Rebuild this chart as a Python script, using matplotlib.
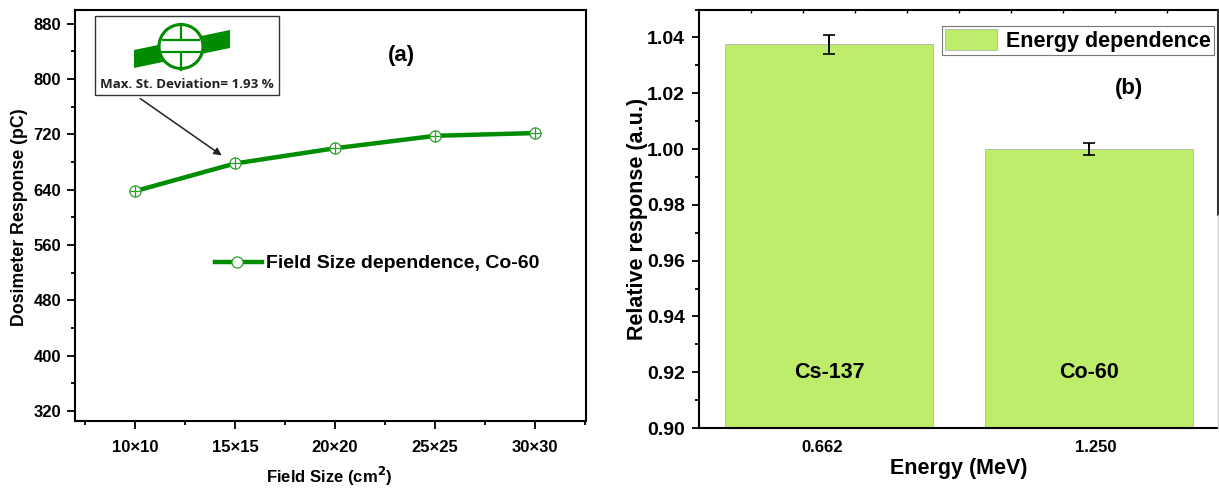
import matplotlib
matplotlib.use("Agg")
import matplotlib.pyplot as plt
from matplotlib.patches import Polygon, Circle, Rectangle
from matplotlib.ticker import MultipleLocator

# panel (a)
field_sizes = ["10×10", "15×15", "20×20", "25×25", "30×30"]
response = [638, 678, 700, 718, 722]

# panel (b)
energies = ["0.662", "1.250"]
sources = ["Cs-137", "Co-60"]
relative = [1.0375, 1.0]
rel_err = [0.0033, 0.0022]

W, H = 1219, 488
GREEN = "#008c00"
BAR = "#bded6b"

plt.rcParams["font.family"] = ["Liberation Sans", "DejaVu Sans"]
plt.rcParams["font.weight"] = "bold"


def px_axes(l, t, r, b):
    return fig.add_axes([l / W, 1 - b / H, (r - l) / W, (b - t) / H])


fig = plt.figure(figsize=(W / 100, H / 100), dpi=100)

# ---- left panel
ax = px_axes(75, 10, 586, 421)
xs = list(range(len(response)))
ax.plot(xs, response, color=GREEN, lw=3.2, zorder=2)
ax.plot(xs, response, ls="none", marker="o", ms=8, mfc="white", mec="#2ca02c", mew=0.9, zorder=3)
ax.plot(xs, response, ls="none", marker="+", ms=8, mec="#2ca02c", mew=0.9, zorder=4)
ax.set_xlim(-0.6, 4.51)
ax.set_ylim(305.5, 900)
ax.set_xticks(xs)
ax.set_xticklabels(field_sizes, fontsize=12)
ax.set_xticks([-0.5, 0.5, 1.5, 2.5, 3.5, 4.5], minor=True)
ax.yaxis.set_major_locator(MultipleLocator(80))
ax.yaxis.set_minor_locator(MultipleLocator(40))
ax.tick_params(axis="y", labelsize=12, width=1.3, length=6, pad=4)
ax.tick_params(axis="x", width=1.3, length=6, pad=8)
ax.tick_params(which="minor", width=1.3, length=3)
ax.set_xlabel("Field Size (cm$\\mathbf{^2}$)", fontsize=12, fontweight="bold")
ax.xaxis.set_label_coords(0.497, -0.134)
ax.xaxis.label.set_va("center")
ax.set_ylabel("Dosimeter Response (pC)", fontsize=12.8, fontweight="bold")
ax.yaxis.set_label_coords(-0.109, 0.496)
ax.yaxis.label.set_va("center")
for s in ax.spines.values():
    s.set_linewidth(1.5)
ax.text(0.638, 0.889, "(a)", transform=ax.transAxes, fontsize=16, ha="center", va="center")
ax.plot([0.273, 0.365], [0.388, 0.388], transform=ax.transAxes, color=GREEN, lw=3.2)
ax.plot([0.318], [0.388], transform=ax.transAxes, ls="none", marker="o", ms=8, mfc="white", mec="#2ca02c", mew=0.9, zorder=5)
ax.text(0.373, 0.384, "Field Size dependence, Co-60", transform=ax.transAxes, fontsize=14, va="center")

# ---- right panel
ax2 = px_axes(699, 9.5, 1218.5, 428)
x2 = [0, 1]
label_pos = [-0.027, 1.025]
ax2.bar(x2, relative, width=0.8, color=BAR, edgecolor="#a8a8a8", lw=0.5, label="Energy dependence", zorder=2)
ax2.errorbar(x2, relative, yerr=rel_err, fmt="none", ecolor="black", elinewidth=1.4, capsize=4, capthick=1.2, zorder=3)
ax2.set_xlim(-0.5, 1.498)
ax2.set_ylim(0.90, 1.05)
ax2.set_xticks(label_pos)
ax2.set_xticklabels(energies, fontsize=12)
ax2.set_xticks([-0.3, -0.1, 0.1, 0.3, 0.5, 0.7, 0.9, 1.1, 1.3], minor=True)
ax2.yaxis.set_major_locator(MultipleLocator(0.02))
ax2.yaxis.set_minor_locator(MultipleLocator(0.01))
ax2.yaxis.set_major_formatter("{x:.2f}")
ax2.tick_params(axis="y", labelsize=14, width=1.3, length=5, pad=5)
ax2.tick_params(axis="y", which="minor", width=1.3, length=3)
ax2.tick_params(axis="x", length=0, pad=9)
ax2.tick_params(axis="x", which="minor", bottom=False, top=True, direction="in", length=2, width=1)
ax2.set_xlabel("Energy (MeV)", fontsize=15.5, fontweight="bold")
ax2.xaxis.set_label_coords(0.50, -0.096)
ax2.xaxis.label.set_va("center")
ax2.set_ylabel("Relative response (a.u.)", fontsize=15.5, fontweight="bold")
ax2.yaxis.set_label_coords(-0.119, 0.5)
ax2.yaxis.label.set_va("center")
for s in ax2.spines.values():
    s.set_linewidth(1.5)
ax2.spines["right"].set_visible(False)
for xv, name in zip(x2, sources):
    ax2.text(xv, 0.92, name, fontsize=15.5, ha="center", va="center", zorder=4)
ax2.text(0.827, 0.812, "(b)", transform=ax2.transAxes, fontsize=16, ha="center", va="center")
leg = ax2.legend(loc="upper left", bbox_to_anchor=(0.468, 0.96), fontsize=15.5, frameon=True, fancybox=False,
                 edgecolor="#777777", framealpha=1, borderpad=0.15, handlelength=2.4, handleheight=1.1,
                 handletextpad=0.4, borderaxespad=0)
leg.get_frame().set_linewidth(0.8)

# ---- pixel overlay for the inset detector sketch, arrow and right edge
ov = fig.add_axes([0, 0, 1, 1], zorder=10)
ov.set_xlim(0, W)
ov.set_ylim(H, 0)
ov.axis("off")
ov.plot([1218, 1218], [10, 215], color="#333333", lw=1.5)
ov.plot([1218, 1218], [215, 428], color="#cccccc", lw=1.0)
ov.add_patch(Rectangle((95, 16), 184, 79, fc="white", ec="#333333", lw=1.0))
ov.add_patch(Polygon([[134, 50], [230, 30], [230, 48], [134, 68]], fc=GREEN, ec="none"))
ov.add_patch(Circle((181, 46.5), 22, fc="white", ec=GREEN, lw=2.2))
ov.plot([181, 181], [24, 38], color=GREEN, lw=1.6)
ov.plot([181, 181], [53, 70], color=GREEN, lw=1.6)
ov.plot([163, 199], [40, 40], color=GREEN, lw=1.6)
ov.plot([160, 202], [52, 52], color=GREEN, lw=1.6)
ov.text(187, 84, "Max. St. Deviation= 1.93 %", fontsize=9.6, fontfamily=["Open Sans", "DejaVu Sans"], ha="center", va="center", color="#222222")
ov.annotate("", xy=(224, 157), xytext=(138, 97),
            arrowprops=dict(arrowstyle="-|>", color="#222222", lw=1.1, mutation_scale=11))

fig.savefig("out.png", dpi=100)
